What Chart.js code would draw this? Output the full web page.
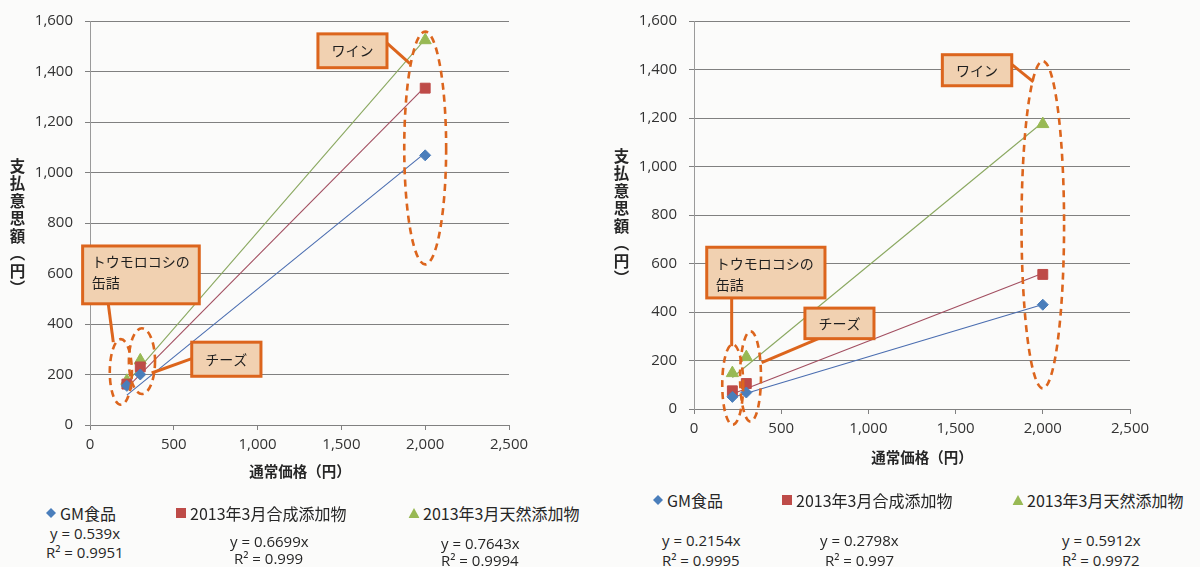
<!DOCTYPE html>
<html lang="ja">
<head>
<meta charset="utf-8">
<title>通常価格と支払意思額</title>
<script src="https://cdn.jsdelivr.net/npm/chart.js@4.4.1/dist/chart.umd.min.js"></script>
<style>
  html, body { margin: 0; padding: 0; background: #fbfbfa; }
  #page { position: relative; width: 1200px; height: 567px; overflow: hidden; background: #fbfbfa; color: #262626; }
  .panel { position: absolute; top: 0; width: 600px; }
  .panel canvas { display: block; }
  .ytitle { position: absolute; writing-mode: vertical-rl; font-family: "Noto Sans CJK JP", sans-serif; font-weight: bold; font-size: 15.5px; letter-spacing: 2px; line-height: 1; }
  .xtitle { position: absolute; font-family: "Noto Sans CJK JP", sans-serif; font-weight: bold; font-size: 14.5px; transform: translate(-50%, -50%); white-space: nowrap; }
  .leg { position: absolute; font-family: "Noto Sans CJK JP", sans-serif; font-size: 16px; white-space: nowrap; transform: translateY(-50%); line-height: 1; }
  .leg svg { position: absolute; top: 50%; transform: translate(-50%, -50%); }
  .eq { position: absolute; font-family: "Open Sans", sans-serif; font-size: 15px; white-space: nowrap; transform: translateY(-50%); line-height: 1; color: #262626; }
</style>
</head>
<body>
<div id="page">
  <div class="panel" style="left:0"><canvas id="chartA" width="600" height="470"></canvas></div>
  <div class="panel" style="left:600px"><canvas id="chartB" width="600" height="455"></canvas></div>
</div>
<script>
// ---- data ----
const PRODUCTS = ['トウモロコシの缶詰', 'チーズ', 'ワイン'];
const PRICE = [220, 300, 2000];                       // 通常価格（円）
const SERIES = ['GM食品', '2013年3月合成添加物', '2013年3月天然添加物'];

// panel A: 支払意思額（円）
const GM_A = [155, 200, 1068];
const SYN_A = [162, 230, 1334];
const NAT_A = [175, 256, 1524];
const SLOPE_A = [0.539, 0.6699, 0.7643];
const R2_A = ['0.9951', '0.999', '0.9994'];

// panel B: 支払意思額（円）
const GM_B = [50, 68, 430];
const SYN_B = [75, 105, 555];
const NAT_B = [148, 214, 1175];
const SLOPE_B = [0.2154, 0.2798, 0.5912];
const R2_B = ['0.9995', '0.997', '0.9972'];

const X_TICKS = [0, 500, 1000, 1500, 2000, 2500];
const Y_TICKS = [0, 200, 400, 600, 800, 1000, 1200, 1400, 1600];
const X_TITLE = '通常価格（円）';
const Y_TITLE = '支払意思額（円）';

// ---- styles ----
const MARKER_COLORS = ['#4a7ebb', '#be4b48', '#98b954'];
const TREND_COLORS = ['#4a6db0', '#a24e60', '#8aa860'];
const POINT_STYLES = ['rectRot', 'rect', 'triangle'];
const POINT_RADII = [5.5, 7, 7];
const ORANGE = '#dc651d';
const BOX_FILL = '#f1d1b1';
const TICK_FONT = { family: 'Open Sans', size: 15 };

// callout boxes and dashed rings, in axis units
const CALLOUTS_A = {
  boxes: [
    { x: [1360, 1772], y: [1549, 1415], lines: ['ワイン'], align: 'center', link: [[1772, 1512], [1909, 1431]] },
    { x: [-44, 652], y: [709, 480], lines: ['トウモロコシの', '缶詰'], align: 'left', link: [[109, 480], [139, 328]] },
    { x: [607, 1020], y: [328, 193], lines: ['チーズ'], align: 'center', link: [[607, 263], [368, 206]] }
  ],
  rings: [
    { cx: 2000, cy: 1097, rx: 125, ry: 461 },
    { cx: 184, cy: 210, rx: 66, ry: 130 },
    { cx: 310, cy: 253, rx: 78, ry: 130 }
  ]
};
const CALLOUTS_B = {
  boxes: [
    { x: [1424, 1822], y: [1461, 1333], lines: ['ワイン'], align: 'center', link: [[1822, 1421], [1946, 1349]] },
    { x: [73, 751], y: [667, 458], lines: ['トウモロコシの', '缶詰'], align: 'left', link: [[216, 458], [216, 259]] },
    { x: [636, 1032], y: [416, 290], lines: ['チーズ'], align: 'center', link: [[713, 290], [388, 191]] }
  ],
  rings: [
    { cx: 2000, cy: 760, rx: 122, ry: 675 },
    { cx: 222, cy: 101, rx: 60, ry: 166 },
    { cx: 324, cy: 134, rx: 60, ry: 186 }
  ]
};

// draws the orange callouts on top of the plot
const calloutPlugin = {
  id: 'callouts',
  afterDraw(chart, args, opts) {
    const { ctx } = chart;
    const xs = chart.scales.x, ys = chart.scales.y;
    const px = v => xs.getPixelForValue(v);
    const py = v => ys.getPixelForValue(v);
    ctx.save();
    ctx.strokeStyle = ORANGE;
    ctx.lineWidth = 2.6;
    ctx.setLineDash([7, 5]);
    opts.rings.forEach(r => {
      const cx = px(r.cx), cy = py(r.cy);
      const rx = Math.abs(px(r.cx + r.rx) - cx), ry = Math.abs(py(r.cy + r.ry) - cy);
      ctx.beginPath();
      ctx.ellipse(cx, cy, rx, ry, 0, 0, Math.PI * 2);
      ctx.stroke();
    });
    ctx.setLineDash([]);
    opts.boxes.forEach(b => {
      ctx.lineWidth = 3;
      ctx.beginPath();
      ctx.moveTo(px(b.link[0][0]), py(b.link[0][1]));
      ctx.lineTo(px(b.link[1][0]), py(b.link[1][1]));
      ctx.stroke();
      const l = px(b.x[0]), r = px(b.x[1]), t = py(b.y[0]), btm = py(b.y[1]);
      ctx.fillStyle = BOX_FILL;
      ctx.fillRect(l, t, r - l, btm - t);
      ctx.strokeRect(l, t, r - l, btm - t);
      ctx.fillStyle = '#1e1e1e';
      ctx.font = '14px "Noto Sans CJK JP"';
      ctx.textBaseline = 'middle';
      if (b.align === 'center') {
        ctx.textAlign = 'center';
        ctx.fillText(b.lines[0], (l + r) / 2, (t + btm) / 2);
      } else {
        ctx.textAlign = 'left';
        b.lines.forEach((s, i) => ctx.fillText(s, l + 9, t + 16 + i * 21));
      }
    });
    ctx.restore();
  }
};

function buildChart(id, values, slopes, callouts, area) {
  const canvas = document.getElementById(id);
  const H = canvas.height, W = canvas.width;
  const datasets = [];
  values.forEach((vals, i) => {
    datasets.push({
      type: 'scatter',
      label: SERIES[i],
      data: PRICE.map((x, k) => ({ x, y: vals[k] })),
      pointStyle: POINT_STYLES[i],
      pointRadius: POINT_RADII[i],
      backgroundColor: MARKER_COLORS[i],
      borderColor: MARKER_COLORS[i],
      borderWidth: 1,
      order: 0
    });
  });
  const xMin = Math.min(...PRICE), xMax = Math.max(...PRICE);
  slopes.forEach((m, i) => {
    datasets.push({
      type: 'line',
      label: SERIES[i] + ' 線形近似',
      data: [{ x: xMin, y: m * xMin }, { x: xMax, y: m * xMax }],
      borderColor: TREND_COLORS[i],
      borderWidth: 1.1,
      pointRadius: 0,
      fill: false,
      order: 1
    });
  });
  return new Chart(canvas, {
    type: 'scatter',
    data: { datasets },
    options: {
      responsive: false,
      animation: false,
      devicePixelRatio: 1,
      layout: { padding: { left: 0, top: area.top, right: W - area.right, bottom: 0 } },
      plugins: {
        legend: { display: false },
        tooltip: { enabled: false },
        callouts
      },
      scales: {
        x: {
          type: 'linear', min: 0, max: 2500,
          afterBuildTicks: s => { s.ticks = X_TICKS.map(v => ({ value: v })); },
          afterFit: s => { s.height = H - area.bottom; },
          ticks: { font: TICK_FONT, color: '#333', padding: 6, maxRotation: 0,
                   callback: v => v.toLocaleString('en-US') },
          grid: { drawOnChartArea: false, drawTicks: true, tickLength: 5, tickColor: '#808080' },
          border: { display: true, color: '#808080', width: 1 },
          title: { display: false }
        },
        y: {
          type: 'linear', min: 0, max: 1600,
          afterBuildTicks: s => { s.ticks = Y_TICKS.map(v => ({ value: v })); },
          afterFit: s => { s.width = area.left; },
          ticks: { font: TICK_FONT, color: '#333', padding: 12,
                   callback: v => v.toLocaleString('en-US') },
          grid: { color: '#808080', lineWidth: 1, drawTicks: true, tickLength: 5, tickColor: '#808080' },
          border: { display: true, color: '#9a9a9a', width: 1 },
          title: { display: false }
        }
      }
    },
    plugins: [calloutPlugin]
  });
}

buildChart('chartA', [GM_A, SYN_A, NAT_A], SLOPE_A, CALLOUTS_A, { left: 90, right: 509, top: 19, bottom: 425 });
buildChart('chartB', [GM_B, SYN_B, NAT_B], SLOPE_B, CALLOUTS_B, { left: 94, right: 530, top: 13, bottom: 409 });

// ---- axis titles, legend and trend equations ----
const page = document.getElementById('page');
function add(cls, html, style) {
  const d = document.createElement('div');
  d.className = cls;
  d.innerHTML = html;
  Object.assign(d.style, style);
  page.appendChild(d);
  return d;
}
function markerSvg(i) {
  const c = MARKER_COLORS[i];
  if (i === 0) return `<svg width="10" height="10" style="left:-9px"><polygon points="5,0 10,5 5,10 0,5" fill="${c}"/></svg>`;
  if (i === 1) return `<svg width="10" height="10" style="left:-9px"><rect x="0" y="0" width="10" height="10" fill="${c}"/></svg>`;
  return `<svg width="11" height="10" style="left:-9px"><polygon points="5.5,0 11,10 0,10" fill="${c}"/></svg>`;
}

const PANELS = [
  { slopes: SLOPE_A, r2: R2_A,
    yTitle: { left: '9px', top: '158px' }, xTitle: { x: 300, y: 470 },
    legend: [[60, 513], [190, 513], [423, 513]],
    eqY: [[50, 533], [230, 541], [441, 543]],
    eqR: [[46, 552], [234, 558], [441, 560]] },
  { slopes: SLOPE_B, r2: R2_B,
    yTitle: { left: '613px', top: '148px' }, xTitle: { x: 922, y: 456 },
    legend: [[667, 500], [796, 500], [1027, 500]],
    eqY: [[662, 540], [820, 540], [1062, 540]],
    eqR: [[662, 560], [825, 560], [1062, 560]] }
];

PANELS.forEach(p => {
  add('ytitle', Y_TITLE, p.yTitle);
  add('xtitle', X_TITLE, { left: p.xTitle.x + 'px', top: p.xTitle.y + 'px' });
  SERIES.forEach((name, i) => {
    add('leg', markerSvg(i) + name, { left: p.legend[i][0] + 'px', top: p.legend[i][1] + 'px' });
    add('eq', 'y = ' + p.slopes[i] + 'x', { left: p.eqY[i][0] + 'px', top: p.eqY[i][1] + 'px' });
    add('eq', 'R² = ' + p.r2[i], { left: p.eqR[i][0] + 'px', top: p.eqR[i][1] + 'px' });
  });
});
</script>
</body>
</html>
